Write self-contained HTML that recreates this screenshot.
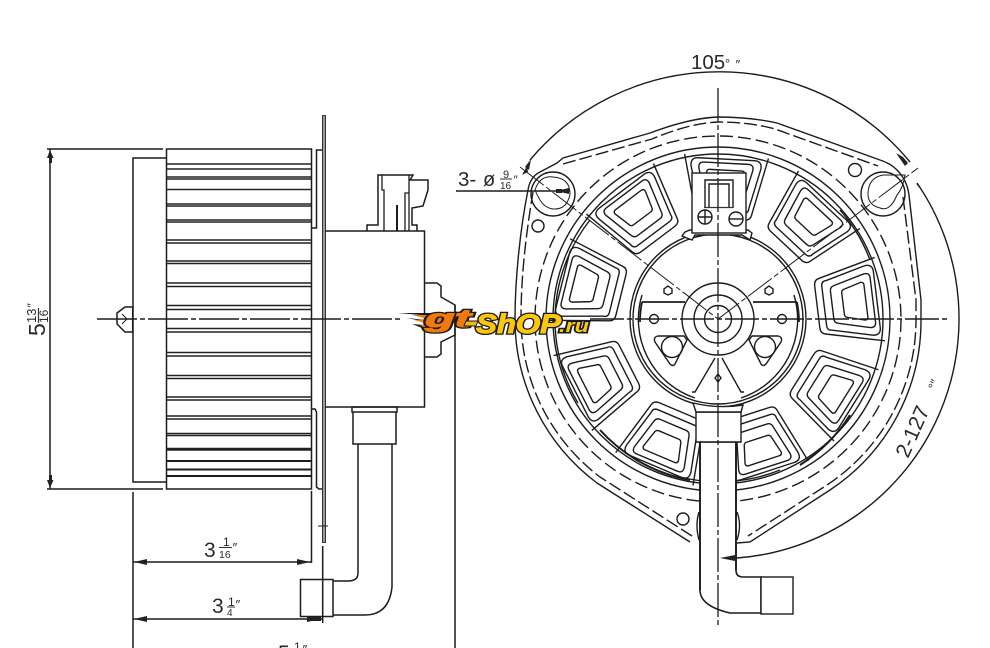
<!DOCTYPE html>
<html>
<head>
<meta charset="utf-8">
<style>
html,body{margin:0;padding:0;background:#fff;width:990px;height:648px;overflow:hidden}
svg{display:block}
text{font-family:"Liberation Sans",sans-serif;fill:#2a2a2a}
</style>
</head>
<body>
<svg width="990" height="648" viewBox="0 0 990 648" xmlns="http://www.w3.org/2000/svg">
<defs>
<g id="pocket" fill="none" stroke="#1c1c1c" stroke-width="1.4" stroke-linejoin="round">
<path d="M-42,-163 L-28,-105 Q-27,-100 -21,-100 L21,-100 Q27,-100 28,-105 L42,-163"/>
<path d="M-20,-107 L20,-107 Q25,-107 25,-112 L35,-152 Q36,-160 28,-160 L-28,-160 Q-36,-160 -35,-152 L-25,-112 Q-25,-107 -20,-107Z"/>
<path d="M-14,-115 L14,-115 Q18,-115 19,-119 L27,-150 Q28,-156 22,-156 L-22,-156 Q-28,-156 -27,-150 L-19,-119 Q-18,-115 -14,-115Z"/>
<path d="M-11,-126 L11,-126 Q13,-126 14,-128 L19,-146 Q19,-149 16,-149 L-16,-149 Q-19,-149 -19,-146 L-14,-128 Q-13,-126 -11,-126Z"/>
</g>
</defs>
<rect width="990" height="648" fill="#fff"/>

<!-- LEFT VIEW -->
<g fill="none" stroke="#1c1c1c" stroke-width="1.500">
<path d="M47,149H163M47,489H163M50,149V489"/>
<path d="M166,158H133V482H166M133,492V648"/>
<rect x="166.500" y="149" width="145" height="340"/>
<path d="M167,164H311M167,169H311M167,177H311M167,179H311M167,189.500H311M167,204H311M167,206H311M167,220H311M167,222H311M167,240H311M167,243H311M167,261H311M167,263.500H311M167,283H311M167,286.500H311M167,305.500H311M167,309.500H311M167,328.500H311M167,332H311M167,352.500H311M167,356H311M167,375.500H311M167,378.500H311M167,397H311M167,400H311M167,416H311M167,419H311M167,433.500H311M167,435.500H311M167,448.500H311M167,450H311" stroke="#222"/>
<path d="M167,461H311M167,469.500H311M167,476H311" stroke-width="2"/>
<path d="M322,150H316.500V228H312M312,409H315L316.500,412V487L319,489H322"/>
<rect x="322.500" y="115.500" width="3" height="427" fill="#999" stroke="#333" stroke-width="1"/>
<path d="M318,526H328" stroke-width="1"/>
<path d="M325,231H424.500V407H325"/>
<path d="M367,231V225H378V175H413L410,180H428V190L423,206L412,208V225H417V231"/>
<path d="M382,175V190H384V231M405,231V193H409V175M409,231V190" stroke-width="1.300"/>
<path d="M397,205V231" stroke-width="2"/>
<path d="M424.500,283H437L441,286V297L455,305V335L441,342V354L437,357H424.500"/>
<path d="M455,305V648"/>
<path d="M117,313L125,307H132.700V332H125L117,324Z"/>
<path d="M122,314L127,319L122,324" stroke-width="1"/>
<path d="M352,407H397V412H352ZM353,412V444H396V412"/>
<path d="M358,444V573Q358,581 348,581H333M392,444V587Q389,615 365,615H333"/>
<rect x="300.500" y="579.500" width="32.500" height="37"/>
<path d="M322.700,546V623M311.500,491V563"/>
<path d="M133,562H311M133,619H322"/>
<path d="M97,319H400" stroke-dasharray="40 3 5 3" stroke-width="1.500"/>
</g>
<g fill="#222">
<path d="M50,150L47,158H49V163H52V158H53.500ZM50,488L47,480H49V475H52V480H53.500Z"/>
<path d="M134,562L147,559V565ZM310,562L297,559V565ZM134,619L147,616V622ZM321,619L307,616V622Z"/>
<rect x="309" y="617" width="12" height="4"/>
</g>

<text transform="translate(45,336) rotate(-90)" font-size="23">5</text>
<text transform="translate(36,323) rotate(-90)" font-size="13">13</text>
<text transform="translate(48,323) rotate(-90)" font-size="12">16</text>
<path d="M38.500,308V323" stroke="#333" stroke-width="1.200"/>
<text transform="translate(36,308) rotate(-90)" font-size="12" font-style="italic">″</text>

<text x="204" y="557" font-size="21">3</text>
<text x="223" y="546" font-size="12">1</text>
<path d="M219,547.500H232" stroke="#333"/>
<text x="219" y="558" font-size="10.500">16</text>
<text x="232" y="552" font-size="13" font-style="italic">″</text>

<text x="212" y="613" font-size="21">3</text>
<text x="228" y="606" font-size="12">1</text>
<path d="M227,607H235" stroke="#333"/>
<text x="227" y="616" font-size="10">4</text>
<text x="235" y="609" font-size="13" font-style="italic">″</text>

<text x="278" y="660" font-size="21">5</text>
<text x="294" y="651" font-size="12">1</text>
<text x="302" y="654" font-size="13" font-style="italic">″</text>

<!-- RIGHT VIEW -->
<g fill="none" stroke="#1c1c1c" stroke-width="1.400">
<path d="M530,160A247,247 0 0 1 910,162"/>
<path d="M917,183A240,240 0 0 1 737,558"/>

<path d="M690,542L597,483A204,204 0 0 1 515,319C515,280 520,230 528,190Q530,177 540,172L557,163L563,158L650,133Q690,118 718,117Q750,117 777,123L880,160Q890,163 897,170Q907,180 909,195L921,300V319A203,203 0 0 1 830,490L750,542L737,543"/>
<path d="M692,536L600,477A199,199 0 0 1 521,319C521,280 525,240 533,192M563,164L652,139Q690,123 718,122Q750,122 775,129L878,166M903,197L916,300V319A198,198 0 0 1 827,485L748,536" stroke-dasharray="13 4"/>
<circle cx="718" cy="319" r="183" stroke-dasharray="13 5"/>
<circle cx="718" cy="319" r="172"/>
<circle cx="718" cy="319" r="165"/>
<path d="M578,403A163,163 0 0 1 555,319A163,163 0 0 1 590,220M840,210A162,162 0 0 1 870,260M680,477A162,162 0 0 0 780,470"/>
<path d="M600,430A161,161 0 0 0 690,480M850,415A162,162 0 0 1 800,465" stroke-width="2"/>

<circle cx="553" cy="194" r="22"/>
<path d="M535,190Q540,175 553,177Q570,178 570,194Q567,210 553,209Q545,208 540,200Q537,195 535,190Z" stroke-width="1"/>
<circle cx="883" cy="194" r="22"/>
<path d="M868,194Q868,178 883,175H905Q903,188 897,195Q890,212 880,208Q868,205 868,194Z" stroke-width="1"/>
<circle cx="538" cy="226" r="6"/>
<circle cx="855" cy="170" r="6.500"/>
<circle cx="683" cy="519" r="6"/>
<path d="M699,512Q695,525 699,540M737,512Q742,525 737,540"/>
</g>

<g>
<use href="#pocket" transform="translate(718,319) rotate(3)"/>
<use href="#pocket" transform="translate(718,319) rotate(43)"/>
<use href="#pocket" transform="translate(718,319) rotate(83)"/>
<use href="#pocket" transform="translate(718,319) rotate(122)"/>
<use href="#pocket" transform="translate(718,319) rotate(162)"/>
<use href="#pocket" transform="translate(718,319) rotate(-157)"/>
<use href="#pocket" transform="translate(718,319) rotate(-117)"/>
<use href="#pocket" transform="translate(718,319) rotate(-76)"/>
<use href="#pocket" transform="translate(718,319) rotate(-37)"/>
</g>

<g fill="none" stroke="#1c1c1c" stroke-width="1.400">
<circle cx="718" cy="319" r="88" fill="#fff"/>
<circle cx="718" cy="319" r="85"/>
<path d="M642,295A83,83 0 0 0 695,398M794,295A83,83 0 0 1 741,398"/>
<path d="M642,302H685M753,302H797M642,302Q640,312 640,322M797,302Q799,312 799,322" stroke-width="1.800"/>
<circle cx="654" cy="319" r="4.500"/>
<circle cx="782" cy="319" r="4.500"/>
<path d="M668,286L672,289V293L668,295L664,293V289ZM769,286L773,289V293L769,295L765,293V289ZM718,374L721,378L718,382L715,378Z"/>
<path d="M658,336H684L687,340L675,364Q673,367 670,364L655,342Q653,337 658,336ZM778,336H752L749,340L761,364Q763,367 766,364L781,342Q783,337 778,336Z"/>
<circle cx="672" cy="347" r="10.500"/>
<circle cx="765" cy="347" r="10.500"/>
<path d="M715,358L695,392H692M722,358L741,392H744"/>
<circle cx="718" cy="319" r="36" fill="#fff"/>
<circle cx="718" cy="319" r="24"/>
<circle cx="718" cy="319" r="13.500"/>
<path d="M685,232L682,236L692,240L695,235H742L750,240L752,233L748,230H690Z" fill="#fff"/>

<rect x="692" y="173" width="54" height="60" fill="#fff"/>
<path d="M705,208V180H733V208M709,207V184H729V207"/>
<path d="M704,207.500H733" stroke="#334" stroke-width="1.300"/>
<circle cx="705" cy="217" r="7"/>
<path d="M698,217H712M705,210V224"/>
<circle cx="736" cy="219" r="7"/>
<path d="M729,219H743"/>

<path d="M700,442V590Q700,606 730,613H761V577H743Q736,577 736,570V442Z" fill="#fff" stroke-width="1.600"/>
<path d="M696,412H741V442H696Z" fill="#fff"/>
<path d="M693,403L696,412H741L743,405Q718,409 693,403Z" fill="#fff"/>
<rect x="761" y="577" width="32" height="37" fill="#fff"/>
<path d="M700,442V590M736,442V570" stroke-width="1.800"/>

<path d="M718,88V625" stroke-dasharray="34 3 5 3" stroke-width="1.300"/>
<path d="M590,319H950" stroke-dasharray="34 3 5 3" stroke-width="1.500"/>
<path d="M520,167L718,319L918,168" stroke-dasharray="30 3 5 3" stroke-width="1"/>
<path d="M456,191H570" stroke-width="1.400"/>
</g>

<g fill="#222">
<path d="M531,159L525,167L529,170Z"/>
<path d="M527,166L522,175L528,172Z"/>
<path d="M556,191L569,188V194Z"/>
<rect x="556" y="189" width="6" height="4"/>
<path d="M908,163L903,157L896,153L905,166ZM916,183L922,191L917,185L913,177Z"/>
<path d="M720,558L735,555V561Z"/>
</g>

<text x="691" y="69" font-size="20.500">105</text>
<text x="725" y="68" font-size="13">°</text>
<text x="735" y="69" font-size="13" font-style="italic">″</text>

<text x="458" y="186" font-size="20.500">3-</text>
<text x="483" y="186" font-size="20">ø</text>
<text x="503" y="178" font-size="11">9</text>
<path d="M500,179H512" stroke="#333"/>
<text x="500" y="189" font-size="10">16</text>
<text x="513" y="184" font-size="12" font-style="italic">″</text>

<text transform="translate(908,459) rotate(-66)" font-size="21">2-127</text>
<text transform="translate(936,391) rotate(-66)" font-size="13">°″</text>

<!-- LOGO -->
<g font-weight="bold" font-style="italic">
<path d="M398,313L432,316L428,320L406,318L428,322L424,325L412,324L422,328L435,330L445,314L432,313Z" fill="#1a1a1a"/>
<path d="M412,315L445,315L440,331L426,329L420,325L428,324L414,320L428,319Z" fill="#f07c10"/>
<text x="425" y="327" font-size="25" textLength="46" lengthAdjust="spacingAndGlyphs" style="fill:#1a1a1a;stroke:#1a1a1a;stroke-width:3.500">gt</text>
<text x="425" y="327" font-size="25" textLength="46" lengthAdjust="spacingAndGlyphs" style="fill:#f27a0c;stroke:#f27a0c;stroke-width:1">gt</text>
<path d="M466,321H478L476,326H464Z" fill="#f9b90c" stroke="#1a1a1a"/>
<text x="476" y="333" font-size="27" textLength="85" lengthAdjust="spacingAndGlyphs" style="fill:#1a1a1a;stroke:#1a1a1a;stroke-width:3.500">ShOP</text>
<text x="476" y="333" font-size="27" textLength="85" lengthAdjust="spacingAndGlyphs" style="fill:#fbc60e;stroke:#fbc60e;stroke-width:1">ShOP</text>
<text x="559" y="332" font-size="18" textLength="30" lengthAdjust="spacingAndGlyphs" style="fill:#1a1a1a;stroke:#1a1a1a;stroke-width:3">.ru</text>
<text x="559" y="332" font-size="18" textLength="30" lengthAdjust="spacingAndGlyphs" style="fill:#fbc60e">.ru</text>
</g>
</svg>
</body>
</html>
